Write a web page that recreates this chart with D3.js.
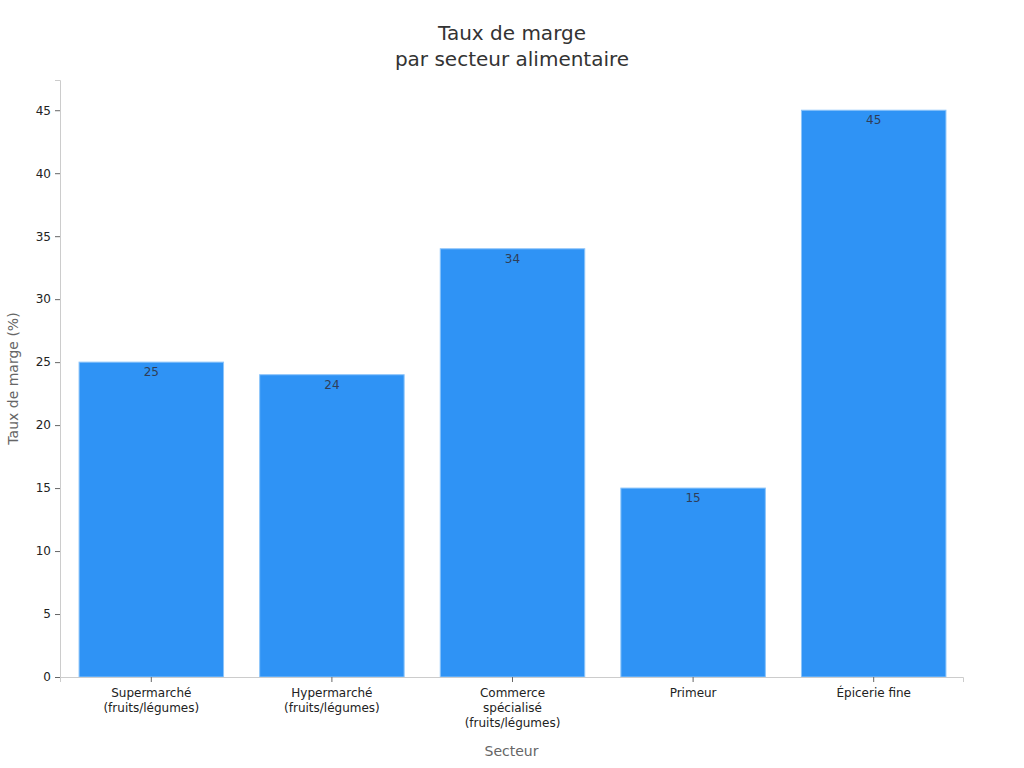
<!DOCTYPE html>
<html>
<head>
<meta charset="utf-8">
<script src="https://cdn.jsdelivr.net/npm/d3@7"></script>
<style>
  body { margin: 0; background: #fff; }
  svg, svg text { font-family: "DejaVu Sans", sans-serif; }
</style>
</head>
<body>
<div id="chart"></div>
<script>
var categories = [
  ['Supermarché', '(fruits/légumes)'],
  ['Hypermarché', '(fruits/légumes)'],
  ['Commerce', 'spécialisé', '(fruits/légumes)'],
  ['Primeur'],
  ['Épicerie fine']
];
var values = [25, 24, 34, 15, 45];
var yTicks = [0, 5, 10, 15, 20, 25, 30, 35, 40, 45];

var width = 1024, height = 768;
var margin = { top: 80, right: 61, bottom: 91, left: 60 };
var innerW = width - margin.left - margin.right;
var innerH = height - margin.top - margin.bottom;

var svg = d3.select('#chart').append('svg')
  .attr('width', width)
  .attr('height', height);

var g = svg.append('g')
  .attr('transform', 'translate(' + margin.left + ',' + margin.top + ')');

var x = d3.scaleBand()
  .domain(d3.range(values.length))
  .range([0, innerW])
  .paddingInner(0.2)
  .paddingOuter(0.1);

var y = d3.scaleLinear()
  .domain([0, 47.4])
  .range([innerH, 0]);

// bars
g.selectAll('rect.bar')
  .data(values)
  .enter()
  .append('rect')
  .attr('class', 'bar')
  .attr('x', function (d, i) { return x(i) + 1; })
  .attr('y', function (d) { return y(d); })
  .attr('width', x.bandwidth())
  .attr('height', function (d) { return innerH - y(d); })
  .attr('fill', '#2f93f5')
  .attr('stroke', '#8cc4fa')
  .attr('stroke-width', 1);

// value labels
g.selectAll('text.val')
  .data(values)
  .enter()
  .append('text')
  .attr('class', 'val')
  .attr('x', function (d, i) { return x(i) + 1 + x.bandwidth() / 2; })
  .attr('y', function (d) { return y(d) + 14; })
  .attr('text-anchor', 'middle')
  .style('font-size', '12px')
  .attr('fill', '#2f3e58')
  .text(function (d) { return d; });

// y axis
var yAxis = g.append('g')
  .call(d3.axisLeft(y).tickValues(yTicks).tickSize(5).tickPadding(4));
yAxis.attr('font-family', null);
yAxis.select('.domain').attr('stroke', '#ccc');
yAxis.selectAll('.tick line').attr('stroke', '#666');
yAxis.selectAll('.tick text').attr('fill', '#222').style('font-size', '12px');

// x axis
var xAxis = g.append('g')
  .attr('transform', 'translate(0,' + innerH + ')')
  .call(d3.axisBottom(x).tickSize(5).tickFormat(''));
xAxis.attr('font-family', null);
xAxis.select('.domain').attr('stroke', '#ccc');
xAxis.selectAll('.tick').attr('transform', function (d) {
  return 'translate(' + (x(d) + 1 + x.bandwidth() / 2) + ',0)';
});
xAxis.selectAll('.tick line').attr('stroke', '#666');
xAxis.selectAll('.tick').each(function (d) {
  var t = d3.select(this).append('text')
    .attr('text-anchor', 'middle')
    .attr('fill', '#222')
    .style('font-size', '12px')
    .attr('y', 20);
  categories[d].forEach(function (line, k) {
    t.append('tspan').attr('x', 0).attr('dy', k === 0 ? 0 : 15).text(line);
  });
});

// title
svg.append('text')
  .attr('x', width / 2)
  .attr('y', 40)
  .attr('text-anchor', 'middle')
  .style('font-size', '20px')
  .attr('fill', '#333')
  .text('Taux de marge');
svg.append('text')
  .attr('x', width / 2)
  .attr('y', 66)
  .attr('text-anchor', 'middle')
  .style('font-size', '20px')
  .attr('fill', '#333')
  .text('par secteur alimentaire');

// axis titles
svg.append('text')
  .attr('x', margin.left + innerW / 2)
  .attr('y', 756)
  .attr('text-anchor', 'middle')
  .style('font-size', '14px')
  .attr('fill', '#666')
  .text('Secteur');

svg.append('text')
  .attr('transform', 'translate(18,' + (margin.top + innerH / 2) + ') rotate(-90)')
  .attr('text-anchor', 'middle')
  .style('font-size', '14px')
  .attr('fill', '#666')
  .text('Taux de marge (%)');
</script>
</body>
</html>
